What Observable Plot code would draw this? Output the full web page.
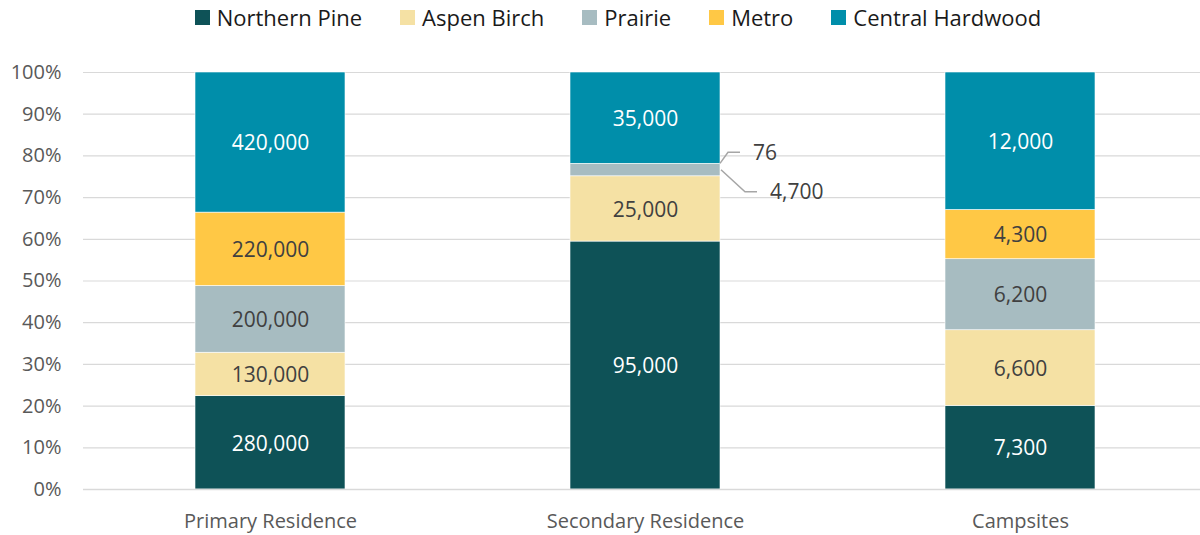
<!DOCTYPE html>
<html>
<head>
<meta charset="utf-8">
<script src="https://cdn.jsdelivr.net/npm/d3@7"></script>
<script src="https://cdn.jsdelivr.net/npm/@observablehq/plot@0.6"></script>
<style>
  html, body { margin: 0; padding: 0; background: #fff; }
  body { width: 1200px; height: 535px; overflow: hidden; font-family: "Open Sans", sans-serif; }
  #legend { height: 38px; display: flex; justify-content: center; align-items: center; padding-left: 36px; padding-bottom: 4px; box-sizing: border-box; }
  .item { display: flex; align-items: center; margin-right: 38px; font-size: 22px; color: #1a1a1a; }
  .item:last-child { margin-right: 0; }
  .sw { width: 15px; height: 15px; margin-right: 7px; }
  #chart svg { display: block; }
</style>
</head>
<body>
<div id="legend"></div>
<div id="chart"></div>
<script>
const categories = ["Primary Residence", "Secondary Residence", "Campsites"];
const series = ["Northern Pine", "Aspen Birch", "Prairie", "Metro", "Central Hardwood"];
const colors = ["#0E5257", "#F5E1A4", "#A7BCC1", "#FFC845", "#008EAA"];
const northernPine = [280000, 95000, 7300];
const aspenBirch = [130000, 25000, 6600];
const prairie = [200000, 4700, 6200];
const metro = [220000, 76, 4300];
const centralHardwood = [420000, 35000, 12000];
const yTicks = [0, 0.1, 0.2, 0.3, 0.4, 0.5, 0.6, 0.7, 0.8, 0.9, 1];

const seriesValues = [northernPine, aspenBirch, prairie, metro, centralHardwood];
const rows = [];
categories.forEach((c, i) => {
  series.forEach((s, j) => rows.push({category: c, series: s, value: seriesValues[j][i]}));
});

// labels drawn with callouts outside the bar
const callouts = [{category: "Secondary Residence", series: "Metro"}, {category: "Secondary Residence", series: "Prairie"}];
const isCallout = d => callouts.some(c => c.category === d.category && c.series === d.series);
const darkSeries = ["Northern Pine", "Central Hardwood"];
const fmt = d3.format(",");

// legend
const legend = document.getElementById("legend");
series.forEach((s, i) => {
  const it = document.createElement("div");
  it.className = "item";
  it.innerHTML = `<div class="sw" style="background:${colors[i]}"></div><span>${s}</span>`;
  legend.appendChild(it);
});

const stackOpts = {x: "category", y: "value", z: "series", order: series, offset: "normalize"};

function calloutMark(index, scales, values, dimensions) {
  const g = d3.create("svg:g");
  const x = scales.x;
  const bw = x.bandwidth ? x.bandwidth() : 150;
  const y = scales.y;
  callouts.forEach(c => {
    const ci = categories.indexOf(c.category);
    const si = series.indexOf(c.series);
    const total = d3.sum(seriesValues, v => v[ci]);
    const lo = d3.sum(seriesValues.slice(0, si), v => v[ci]) / total;
    const hi = lo + seriesValues[si][ci] / total;
    const x0 = x(c.category) + bw;
    let pts, tx, ty;
    if (c.series === "Metro") {
      const y0 = y(hi);
      pts = [[x0, y0], [x0 + 8, y0 - 11], [x0 + 20, y0 - 11]];
      tx = x0 + 33; ty = y0 - 11;
    } else {
      const y0 = y((lo + hi) / 2);
      pts = [[x0 + 1, y0], [x0 + 25, y0 + 22], [x0 + 37, y0 + 22]];
      tx = x0 + 50; ty = y0 + 22;
    }
    g.append("polyline").attr("points", pts.map(p => p.join(",")).join(" "))
      .attr("fill", "none").attr("stroke", "#A6A6A6").attr("stroke-width", 1.5);
    g.append("text").attr("x", tx).attr("y", ty).attr("dy", "0.35em")
      .attr("text-anchor", "start")
      .attr("fill", "#404040").attr("font-size", 21).attr("font-family", "'Open Sans', sans-serif")
      .text(fmt(seriesValues[si][ci]));
  });
  return g.node();
}

const plot = Plot.plot({
  width: 1200,
  height: 497,
  marginTop: 34,
  marginBottom: 46,
  marginLeft: 83,
  marginRight: 0,
  style: {fontFamily: "'Open Sans', sans-serif", background: "#fff"},
  x: {domain: categories, range: [82.5, 1207.5], paddingInner: 0.6, paddingOuter: 0.3, label: null},
  y: {domain: [0, 1], label: null},
  color: {domain: series, range: colors},
  marks: [
    Plot.ruleY(yTicks, {stroke: "#D9D9D9", strokeWidth: 1.2}),
    Plot.barY(rows, Plot.stackY({...stackOpts, fill: "series", stroke: "white", strokeWidth: 0.6})),
    Plot.ruleY([0], {stroke: "#D9D9D9", strokeWidth: 1.5}),
    Plot.text(rows, Plot.stackY({...stackOpts,
      text: d => darkSeries.includes(d.series) && !isCallout(d) ? fmt(d.value) : null,
      fill: "white", fontSize: 21, dy: 1})),
    Plot.text(rows, Plot.stackY({...stackOpts,
      text: d => !darkSeries.includes(d.series) && !isCallout(d) ? fmt(d.value) : null,
      fill: "#404040", fontSize: 21, dy: 1})),
    calloutMark,
    Plot.axisY(yTicks, {tickSize: 0, tickPadding: 22, tickFormat: d3.format(".0%"), fontSize: 20, fill: "#595959", label: null}),
    Plot.axisX({tickSize: 0, tickPadding: 24, fontSize: 20, fill: "#595959", label: null})
  ]
});
document.getElementById("chart").appendChild(plot);
</script>
</body>
</html>
